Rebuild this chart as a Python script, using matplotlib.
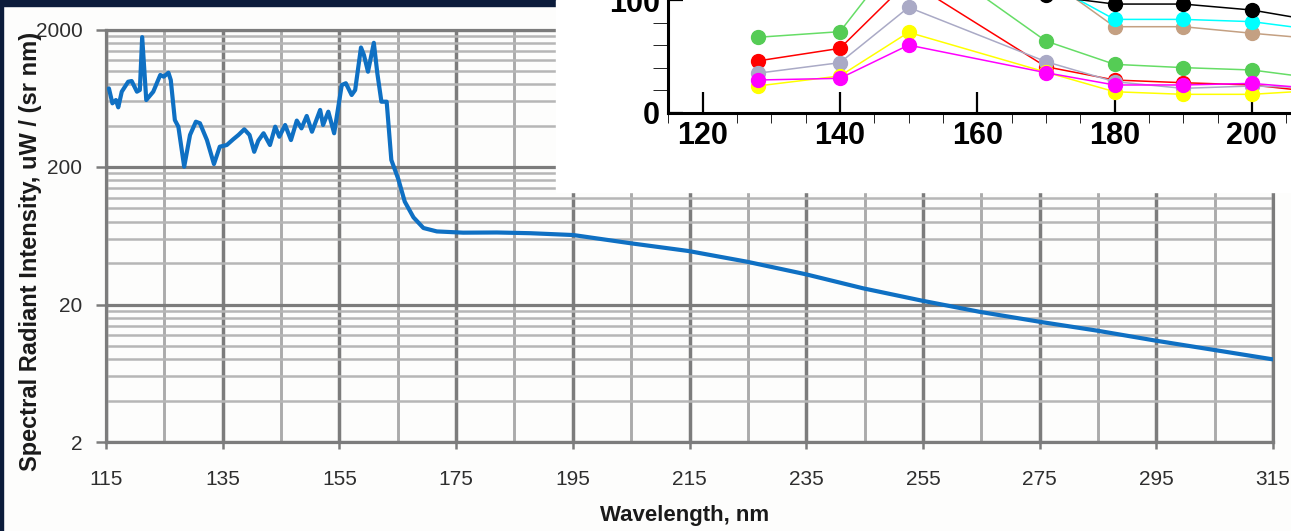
import matplotlib
matplotlib.use('Agg')
import matplotlib.pyplot as plt
from matplotlib.patches import Rectangle
from matplotlib.ticker import FixedLocator, NullFormatter, FuncFormatter

plt.rcParams['font.family'] = ['Liberation Sans', 'DejaVu Sans']

# spectrum
wavelength = [115.5, 116.1, 116.7, 117.1, 117.7, 118.8, 119.4, 120.3, 120.8, 121.2,
              121.9, 123.1, 124.3, 124.9, 125.7, 126.1, 126.8, 127.4, 128.4, 129.4,
              130.4, 131.1, 132.3, 133.5, 134.5, 135.7, 136.8, 137.7, 138.7, 139.6,
              140.4, 141.1, 142.0, 143.1, 144.0, 144.7, 145.7, 146.7, 147.7, 148.5,
              149.4, 150.3, 151.7, 152.2, 153.1, 154.1, 155.4, 156.1, 157.1, 157.7,
              158.7, 159.2, 159.9, 160.9, 161.5, 162.2, 163.1, 163.9, 165.1, 166.2,
              167.7, 169.4, 171.7, 176.2, 182.0, 187.7, 195.1, 205.0, 214.8, 224.9,
              234.9, 244.8, 254.9, 264.7, 274.9, 284.9, 295.0, 305.0, 314.9]
intensity = [746, 581, 614, 543, 706, 834, 844, 706, 726, 1760,
             614, 706, 934, 908, 970, 859, 439, 393, 201, 342,
             427, 416, 314, 210, 281, 289, 318, 342, 376, 342,
             258, 311, 352, 289, 393, 332, 404, 314, 435, 382,
             470, 361, 520, 404, 505, 352, 789, 813, 668, 726,
             1480, 1306, 986, 1600, 960, 597, 597, 225, 163, 112,
             86, 72, 68, 66.6, 66.8, 66, 64, 55.7, 49, 40.9,
             33.2, 26.2, 21.3, 17.7, 15.0, 12.9, 10.9, 9.33, 7.99]

x_ticks = list(range(115, 316, 20))
x_minor = list(range(125, 306, 20))
y_ticks = [2, 20, 200, 2000]
y_minor = [2 * k * d for d in (1, 10, 100) for k in range(2, 10)]

# the piece of the other chart pasted over the top right corner
ins_x = [128, 140, 150, 170, 180, 190, 200, 210]
ins_green = [66.9, 71.9, 150, 63.6, 42.9, 40.0, 37.9, 30.0]
ins_red = [45.9, 57.1, 117, 40.8, 29.0, 26.6, 24.6, 18.0]
ins_gray = [35.0, 44.4, 93.5, 45.3, 27.5, 21.6, 23.7, 22.0]
ins_yellow = [23.7, 32.6, 71.3, 36.0, 18.6, 16.3, 16.3, 20.0]
ins_magenta = [29.0, 30.5, 60.0, 35.5, 24.6, 24.6, 26.0, 21.0]
ins_x2 = [170, 180, 190, 200, 210]
ins_tan = [120, 76.3, 76.3, 70.5, 65.2]
ins_cyan = [116, 82.8, 82.8, 80.8, 72.9]
ins_black = [104, 96.4, 96.4, 91.1, 80.7]

W, H = 1291, 531
fig = plt.figure(figsize=(W / 100, H / 100), dpi=100)
fig.patch.set_facecolor('#fdfdfc')

ax = fig.add_axes([106 / W, (H - 442) / H, (1273 - 106) / W, (442 - 29.5) / H])
ax.set_facecolor('#fdfdfc')
ax.set_yscale('log')
ax.set_xlim(115, 315)
ax.set_ylim(2, 2000)
ax.yaxis.set_major_locator(FixedLocator(y_ticks))
ax.yaxis.set_minor_locator(FixedLocator(y_minor))
ax.yaxis.set_major_formatter(FuncFormatter(lambda v, p: '%g' % v))
ax.yaxis.set_minor_formatter(NullFormatter())
ax.set_xticks(x_ticks)
ax.set_xticks(x_minor, minor=True)
ax.set_axisbelow(True)
ax.xaxis.grid(True, which='major', color='#7c7c7c', lw=2.5)
ax.xaxis.grid(True, which='minor', color='#ababab', lw=2.1)
ax.yaxis.grid(True, which='major', color='#7c7c7c', lw=2.3)
ax.yaxis.grid(True, which='minor', color='#b6b6b6', lw=1.8)
ax.tick_params(which='minor', length=0)
ax.tick_params(axis='y', which='major', length=7, width=1.8, color='#7c7c7c',
               pad=10, labelsize=15, labelcolor='#2e2e2e')
ax.tick_params(axis='x', which='major', length=5, width=1.8, color='#7c7c7c',
               pad=15, labelsize=15, labelcolor='#2e2e2e')
for s in ax.spines.values():
    s.set_color('#7c7c7c')
    s.set_linewidth(2.3)

ax.plot(wavelength, intensity, color='#0f70c3', lw=3, solid_joinstyle='round',
        solid_capstyle='round', zorder=3)

ax.set_xlabel('Wavelength, nm', fontsize=16, fontweight='bold', color='#1a1a1a')
ax.xaxis.set_label_coords(0.496, -0.177)
ax.xaxis.label.set_va('center')
ax.set_ylabel('Spectral Radiant Intensity, uW / (sr nm)', fontsize=17,
              fontweight='bold', color='#1a1a1a')
ax.yaxis.set_label_coords(-0.065, 0.462)
ax.yaxis.label.set_va('center')

# dark frame bits at top and left
fig.add_artist(Rectangle((0, 1 - 6 / H), 556 / W, 6 / H, transform=fig.transFigure,
                         color='#0c1c3b', zorder=4))
fig.add_artist(Rectangle((0, 0), 3 / W, 1, transform=fig.transFigure,
                         color='#0c1c3b', zorder=4))
# white block behind the pasted chart
fig.add_artist(Rectangle((556 / W, 1 - 192 / H), 1 - 556 / W, 192 / H,
                         transform=fig.transFigure, color='white', zorder=5))

ins = fig.add_axes([668.3 / W, (H - 112.7) / H, (W - 668.3) / W, 112.7 / H])
ins.set_zorder(10)
ins.patch.set_alpha(0)
ins.set_xlim(115.4, 205.7)
ins.set_ylim(0, 100)
for side in ('top', 'right'):
    ins.spines[side].set_visible(False)
for side in ('left', 'bottom'):
    ins.spines[side].set_linewidth(2.2)
ins.set_xticks(range(120, 201, 20))
ins.set_xticks(range(115, 206, 5), minor=True)
ins.set_yticks([0, 100])
ins.set_yticks([20, 40, 60, 80], minor=True)
ins.tick_params(direction='in', width=1.6, labelsize=22)
ins.tick_params(axis='x', which='major', length=15, pad=6)
ins.tick_params(axis='x', which='minor', length=7)
ins.tick_params(axis='y', which='major', length=11, pad=6)
ins.tick_params(axis='y', which='minor', length=11)
for lab in ins.get_xticklabels() + ins.get_yticklabels():
    lab.set_fontweight('bold')

ins.plot(ins_x, ins_green, color='#66dd66', lw=1.1, marker='o', ms=10, mfc='#55cc55', mec='#55cc55')
ins.plot(ins_x, ins_red, color='#ff0000', lw=1.1, marker='o', ms=10)
ins.plot(ins_x, ins_gray, color='#aaaac6', lw=1.1, marker='o', ms=10)
ins.plot(ins_x, ins_yellow, color='#ffff00', lw=1.1, marker='o', ms=10)
ins.plot(ins_x, ins_magenta, color='#ff00ff', lw=1.1, marker='o', ms=10)
ins.plot(ins_x2, ins_tan, color='#c4a082', lw=1.1, marker='o', ms=10)
ins.plot(ins_x2, ins_cyan, color='#00ffff', lw=1.1, marker='o', ms=10)
ins.plot(ins_x2, ins_black, color='#000000', lw=1.1, marker='o', ms=10)

fig.savefig('out.png', dpi=100, facecolor=fig.get_facecolor())
